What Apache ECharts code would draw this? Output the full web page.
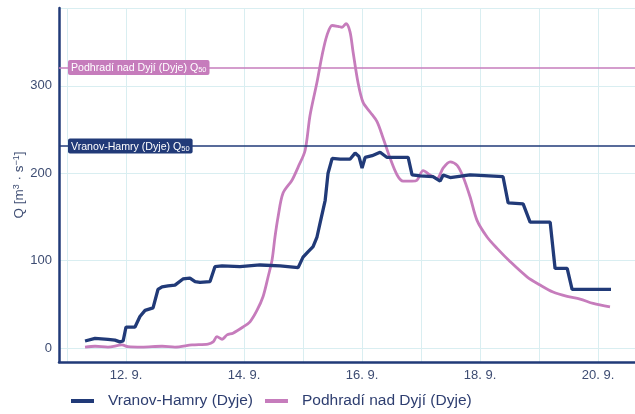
<!DOCTYPE html>
<html>
<head>
<meta charset="utf-8">
<script src="https://cdn.jsdelivr.net/npm/echarts@6/dist/echarts.min.js"></script>
<style>html,body{margin:0;padding:0;background:#fff}#c{width:635px;height:414px}</style>
</head>
<body>
<div id="c"></div>
<script>
// Vranov-Hamry (Dyje) discharge
const vranovTimes = ['2024-09-11 07:20','2024-09-11 11:25','2024-09-11 16:40','2024-09-11 19:30','2024-09-11 21:30','2024-09-11 22:50','2024-09-12 00:00','2024-09-12 03:40','2024-09-12 05:40','2024-09-12 07:45','2024-09-12 11:00','2024-09-12 13:00','2024-09-12 14:40','2024-09-12 17:05','2024-09-12 19:55','2024-09-12 23:10','2024-09-13 02:00','2024-09-13 04:05','2024-09-13 06:05','2024-09-13 10:10','2024-09-13 12:10','2024-09-13 15:05','2024-09-13 22:20','2024-09-14 06:30','2024-09-14 14:40','2024-09-14 22:00','2024-09-15 00:00','2024-09-15 02:00','2024-09-15 04:05','2024-09-15 05:40','2024-09-15 06:55','2024-09-15 09:00','2024-09-15 10:10','2024-09-15 11:50','2024-09-15 15:05','2024-09-15 19:05','2024-09-15 21:10','2024-09-15 22:45','2024-09-16 00:00','2024-09-16 01:15','2024-09-16 04:05','2024-09-16 07:20','2024-09-16 10:10','2024-09-16 18:45','2024-09-16 20:20','2024-09-16 23:35','2024-09-17 04:50','2024-09-17 07:45','2024-09-17 09:00','2024-09-17 11:50','2024-09-17 19:55','2024-09-18 09:20','2024-09-18 11:25','2024-09-18 17:30','2024-09-18 20:20','2024-09-19 04:30','2024-09-19 06:30','2024-09-19 11:25','2024-09-19 13:25','2024-09-20 05:15'];
const vranovQ = [8,11,10,9,7,8,24,24,36,43,46,67,70,71,72,79,80,76,75,76,93,94,93,95,94,92,104,110,116,127,143,169,200,217,216,216,223,219,206,218,220,224,218,218,198,197,196,191,198,195,198,196,166,165,144,144,91,91,67,67];

// Podhradí nad Dyjí (Dyje) discharge
const podhradiTimes = ['2024-09-11 07:20','2024-09-11 11:25','2024-09-11 16:40','2024-09-11 22:20','2024-09-12 00:50','2024-09-12 06:30','2024-09-12 14:40','2024-09-12 19:55','2024-09-13 02:50','2024-09-13 09:20','2024-09-13 11:25','2024-09-13 13:00','2024-09-13 15:05','2024-09-13 17:05','2024-09-13 19:30','2024-09-13 23:35','2024-09-14 02:25','2024-09-14 05:15','2024-09-14 07:45','2024-09-14 09:45','2024-09-14 11:25','2024-09-14 12:35','2024-09-14 13:50','2024-09-14 15:50','2024-09-14 19:30','2024-09-14 22:00','2024-09-15 00:50','2024-09-15 02:50','2024-09-15 05:40','2024-09-15 07:45','2024-09-15 09:45','2024-09-15 11:50','2024-09-15 14:15','2024-09-15 15:50','2024-09-15 17:30','2024-09-15 19:05','2024-09-15 20:20','2024-09-15 22:20','2024-09-16 00:25','2024-09-16 03:15','2024-09-16 06:05','2024-09-16 08:35','2024-09-16 11:25','2024-09-16 14:15','2024-09-16 16:40','2024-09-16 20:20','2024-09-16 22:20','2024-09-17 00:50','2024-09-17 03:40','2024-09-17 06:30','2024-09-17 09:00','2024-09-17 11:50','2024-09-17 14:40','2024-09-17 17:05','2024-09-17 19:55','2024-09-17 22:45','2024-09-18 02:50','2024-09-18 06:55','2024-09-18 12:10','2024-09-18 19:05','2024-09-19 00:25','2024-09-19 05:40','2024-09-19 11:25','2024-09-19 16:40','2024-09-19 22:00','2024-09-20 04:50'];
const podhradiQ = [1,2,1,3.5,1.5,1,2,1,3.5,4.5,7,13,10,15,17,24,30,43,59,81,101,127,150,177,192,207,226,266,304,335,358,369,368,367,371,362,339,304,281,270,259,240,217,198,191,191,192,203,198,194,206,213,209,196,173,146,127,114,99,81.5,72,64,59,56,51,47];

// Q50 reference levels
const q50Names = ['Podhradí nad Dyjí (Dyje)', 'Vranov-Hamry (Dyje)'];
const q50Values = [321, 231];

const seriesNames = ['Vranov-Hamry (Dyje)', 'Podhradí nad Dyjí (Dyje)'];
const xMin = '2024-09-10 20:45';
const xMax = '2024-09-20 15:00';

const NAVY = '#213a78';
const PINK = '#c67cbc';
const GRID = '#d9eef1';
const TXT = '#3d4c72';

function zip(ts, vs) { return ts.map((t, i) => [t, vs[i]]); }

function q50Line(name, value, color) {
  return {
    silent: true,
    symbol: 'none',
    lineStyle: { color: color, width: 1.5, type: 'solid' },
    label: {
      show: true,
      position: 'insideStartTop',
      distance: [9, 0],
      verticalAlign: 'middle',
      formatter: name + ' Q{s|50}',
      color: '#fff',
      backgroundColor: color,
      fontFamily: 'Liberation Sans, Arial, sans-serif',
      fontSize: 10.6,
      lineHeight: 12,
      padding: [2, 3, 1, 3],
      borderRadius: 2,
      rich: { s: { fontSize: 7.5, lineHeight: 12, verticalAlign: 'bottom', padding: [4, 0, 0, 0], color: '#fff' } }
    },
    data: [{ yAxis: value }]
  };
}

const chart = echarts.init(document.getElementById('c'), null, { renderer: 'canvas' });
chart.setOption({
  animation: false,
  backgroundColor: '#fff',
  textStyle: { fontFamily: 'Liberation Sans, Arial, sans-serif' },
  grid: { left: 59, right: 0, top: 8, bottom: 52, containLabel: false },
  legend: {
    top: 388, left: 66,
    itemWidth: 23, itemHeight: 4, itemGap: 12,
    icon: 'rect',
    textStyle: { color: '#2e3e70', fontSize: 15.5, padding: [0, 0, 0, 9], fontFamily: 'Liberation Sans, Arial, sans-serif' },
    data: seriesNames
  },
  xAxis: {
    type: 'time',
    min: xMin, max: xMax,
    minInterval: 86400000, maxInterval: 86400000,
    axisLine: { show: true, onZero: false, lineStyle: { color: NAVY, width: 2.5 } },
    axisTick: { show: false },
    splitLine: { show: true, lineStyle: { color: GRID, width: 1 } },
    axisLabel: {
      interval: 0, margin: 7, color: TXT, fontSize: 13,
      formatter: function (v) {
        const d = new Date(v);
        if (d.getHours() !== 0 || d.getDate() % 2 !== 0) return '';
        return d.getDate() + '. ' + (d.getMonth() + 1) + '.';
      }
    }
  },
  yAxis: {
    type: 'value',
    min: -16, max: 389,
    splitNumber: 4,
    name: 'Q [m{sup|3} · s{sup|−1}]',
    nameLocation: 'middle',
    nameGap: 33,
    nameMoveOverlap: false,
    nameRotate: 90,
    nameTextStyle: { color: TXT, fontSize: 13.5, rich: { sup: { fontSize: 9, verticalAlign: 'top', color: TXT } } },
    axisLine: { show: true, lineStyle: { color: NAVY, width: 2.5 } },
    axisTick: { show: false },
    splitLine: { show: true, lineStyle: { color: GRID, width: 1 } },
    axisLabel: { color: TXT, fontSize: 13, margin: 7, showMinLabel: false, showMaxLabel: false }
  },
  series: [
    {
      name: seriesNames[0], type: 'line', showSymbol: false, symbol: 'none',
      data: zip(vranovTimes, vranovQ),
      lineStyle: { color: NAVY, width: 3.3 }, itemStyle: { color: NAVY },
      z: 3,
      markLine: q50Line(q50Names[1], q50Values[1], NAVY)
    },
    {
      name: seriesNames[1], type: 'line', showSymbol: false, symbol: 'none',
      smooth: 0.3,
      data: zip(podhradiTimes, podhradiQ),
      lineStyle: { color: PINK, width: 2.8 }, itemStyle: { color: PINK },
      z: 2,
      markLine: q50Line(q50Names[0], q50Values[0], PINK)
    }
  ]
});
</script>
</body>
</html>
